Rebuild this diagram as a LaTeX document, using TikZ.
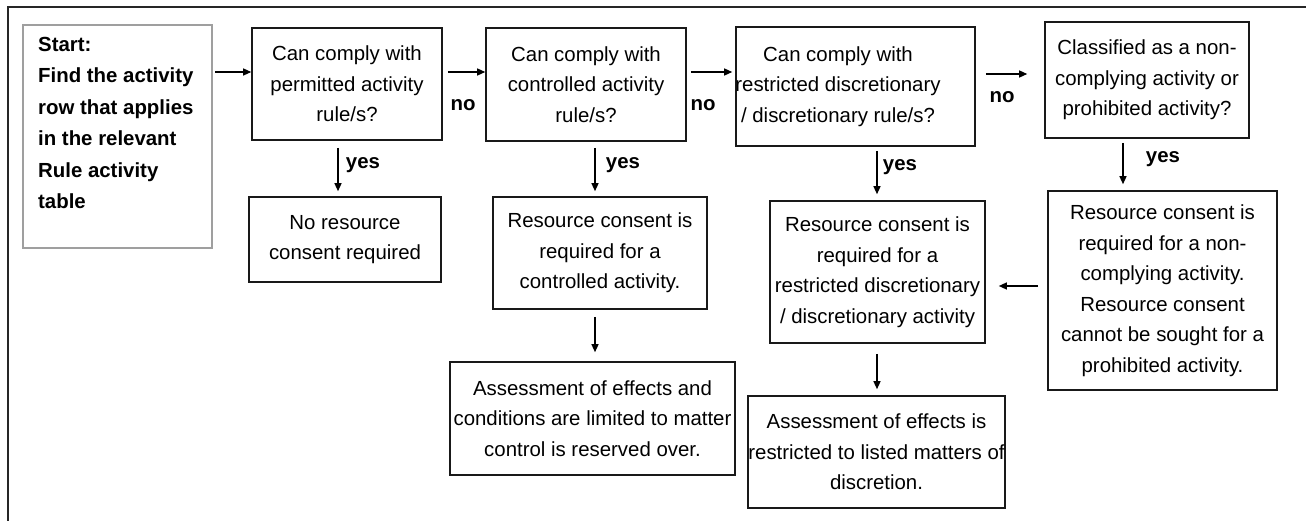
\documentclass[tikz,border=0pt]{standalone}
\usepackage{fontspec}
\setmainfont{Liberation Sans}
\usetikzlibrary{arrows.meta}
\begin{document}
\begin{tikzpicture}[x=1pt,y=-1pt,
  box/.style={draw=black!90, line width=1.6pt, inner sep=0pt, align=center,
    font=\fontsize{20.4}{30.5}\selectfont},
  boxtext/.style={inner sep=0pt, align=center, font=\fontsize{20.4}{30.5}\selectfont},
  startbox/.style={draw=gray!75, line width=2pt, inner sep=0pt},
  lbl/.style={inner sep=0pt, font=\fontsize{20.4}{30.5}\selectfont\bfseries},
  arr/.style={line width=1.3pt, -{Triangle[length=8pt,width=7pt]}},
]
\useasboundingbox (0,0) rectangle (1306,521);
% outer frame
\draw[line width=1.6pt, black!85] (8,521) -- (8,7) -- (1306,7);

% start box
\node[startbox, minimum width=189pt, minimum height=223pt] (start) at (117.5,136.5) {};
\node[anchor=north west, inner sep=0pt, align=left,
  font=\fontsize{20.4}{31.4}\selectfont\bfseries] (starttext)
  at ([xshift=16pt,yshift=-13pt]start.north west)
  {Start:\\Find the activity\\row that applies\\in the relevant\\Rule activity\\table};

% top row
\node[box, minimum width=190pt, minimum height=112pt] (b1) at (347,84)
  {Can comply with\\permitted activity\\rule/s?};
\node[box, minimum width=200pt, minimum height=113pt] (b2) at (586,84.5)
  {Can comply with\\controlled activity\\rule/s?};
\node[box, minimum width=239pt, minimum height=119pt] (b3) at (855.5,86.5) {};
\node[boxtext] (b3text) at (838,86.5)
  {Can comply with\\restricted discretionary\\/ discretionary rule/s?};
\node[box, minimum width=204pt, minimum height=116pt] (b4) at (1147,80)
  {Classified as a non-\\complying activity or\\prohibited activity?};

% second row
\node[box, minimum width=192pt, minimum height=85pt] (r1) at (345,239.5)
  {No resource\\consent required};
\node[box, minimum width=214pt, minimum height=112pt] (r2) at (600,253)
  {Resource consent is\\required for a\\controlled activity.};
\node[box, minimum width=215pt, minimum height=142pt] (r3) at (877.5,272)
  {Resource consent is\\required for a\\restricted discretionary\\/ discretionary activity};
\node[box, minimum width=229pt, minimum height=199pt] (r4) at (1162.5,290.5)
  {Resource consent is\\required for a non-\\complying activity.\\Resource consent\\cannot be sought for a\\prohibited activity.};

% third row
\node[box, minimum width=285pt, minimum height=113pt] (a2) at (592.5,418.5)
  {Assessment of effects and\\conditions are limited to matter\\control is reserved over.};
\node[box, minimum width=257pt, minimum height=112pt] (a3) at (876.5,452)
  {Assessment of effects is\\restricted to listed matters of\\discretion.};

% helper coordinates
\coordinate (h1) at (0,72);
\coordinate (h2) at (0,74);
\coordinate (h3) at (0,286);
\coordinate (v1) at (338,0);
\coordinate (v2) at (595,0);
\coordinate (v3) at (877,0);
\coordinate (v4) at (1123,0);

% horizontal arrows
\draw[arr, shorten <=2pt] (start.east |- h1) -- (b1.west |- h1);
\draw[arr, shorten <=5pt] (b1.east |- h1) -- (b2.west |- h1);
\draw[arr, shorten <=4pt, shorten >=3pt] (b2.east |- h1) -- (b3.west |- h1);
\draw[arr, shorten <=10pt, shorten >=17pt] (b3.east |- h2) -- (b4.west |- h2);
\draw[arr, shorten <=9pt, shorten >=13pt] (r4.west |- h3) -- (r3.east |- h3);

% vertical arrows
\draw[arr, shorten <=7pt, shorten >=5pt] (b1.south -| v1) -- (r1.north -| v1);
\draw[arr, shorten <=6pt, shorten >=5pt] (b2.south -| v2) -- (r2.north -| v2);
\draw[arr, shorten <=4pt, shorten >=6pt] (b3.south -| v3) -- (r3.north -| v3);
\draw[arr, shorten <=4pt, shorten >=6pt] (b4.south -| v4) -- (r4.north -| v4);
\draw[arr, shorten <=7pt, shorten >=9pt] (r2.south -| v2) -- (a2.north -| v2);
\draw[arr, shorten <=10pt, shorten >=6pt] (r3.south -| v3) -- (a3.north -| v3);

% labels
\node[lbl] (no1) at (463,105) {no};
\node[lbl] (no2) at (703,105) {no};
\node[lbl] (no3) at (1002,97) {no};
\node[lbl] (yes1) at (363,165) {yes};
\node[lbl] (yes2) at (623,165) {yes};
\node[lbl] (yes3) at (900,167) {yes};
\node[lbl] (yes4) at (1163,159) {yes};
\end{tikzpicture}
\end{document}
